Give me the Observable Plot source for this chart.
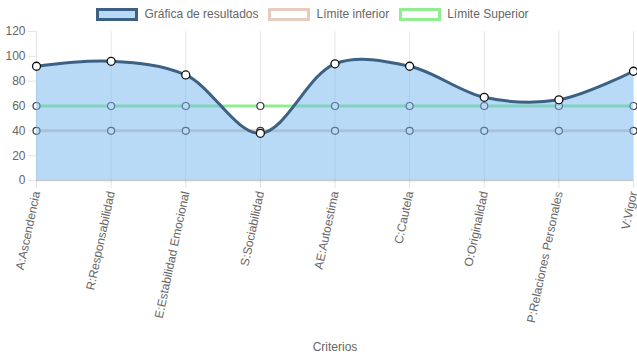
<!DOCTYPE html>
<html>
<head>
<meta charset="utf-8">
<script src="https://cdn.jsdelivr.net/npm/d3@7"></script>
<script src="https://cdn.jsdelivr.net/npm/@observablehq/plot@0.6"></script>
<style>
  html, body { margin: 0; padding: 0; background: #fff; }
  body { width: 637px; height: 359px; overflow: hidden; font-family: "Liberation Sans", Arial, Helvetica, sans-serif; }
  #legend { height: 24px; display: flex; justify-content: center; align-items: center; gap: 10px; font-size: 12px; color: #666; padding-top: 4px; padding-right: 12px; box-sizing: border-box; }
  .item { display: flex; align-items: center; gap: 6px; }
  .box { width: 42px; height: 13px; box-sizing: border-box; border: 3px solid; }
  #chart svg { display: block; }
</style>
</head>
<body>
<div id="legend"></div>
<div id="chart"></div>
<script>
const categories = ["A:Ascendencia", "R:Responsabilidad", "E:Estabilidad Emocional", "S:Sociabilidad", "AE:Autoestima", "C:Cautela", "O:Originalidad", "P:Relaciones Personales", "V:Vigor"];
const resultados = [92, 96, 85, 38, 94, 92, 67, 65, 88];
const limiteInferior = [40, 40, 40, 40, 40, 40, 40, 40, 40];
const limiteSuperior = [60, 60, 60, 60, 60, 60, 60, 60, 60];
const seriesNames = ["Gráfica de resultados", "Límite inferior", "Límite Superior"];
const yTicks = [0, 20, 40, 60, 80, 100, 120];

const legendStyles = [
  {fill: "#b8daf6", border: "#3d6184"},
  {fill: "#fff", border: "#e8cbbf"},
  {fill: "#fff", border: "#90ee90"}
];
const legend = document.getElementById("legend");
seriesNames.forEach((n, i) => {
  const it = document.createElement("div"); it.className = "item";
  const b = document.createElement("div"); b.className = "box";
  b.style.background = legendStyles[i].fill; b.style.borderColor = legendStyles[i].border;
  const t = document.createElement("span"); t.textContent = n;
  it.appendChild(b); it.appendChild(t); legend.appendChild(it);
});

const res = categories.map((c, i) => ({c, v: resultados[i]}));
const low = categories.map((c, i) => ({c, v: limiteInferior[i]}));
const up = categories.map((c, i) => ({c, v: limiteSuperior[i]}));

const curve = "catmull-rom";

const chart = Plot.plot({
  width: 637,
  height: 335,
  marginLeft: 36,
  marginRight: 4,
  marginTop: 7,
  marginBottom: 179,
  style: {fontFamily: "'Liberation Sans', Arial, Helvetica, sans-serif", fontSize: "12px", color: "#666", background: "#fff"},
  x: {type: "point", domain: categories, padding: 0, round: false},
  y: {domain: [0, 120]},
  marks: [
    Plot.gridY(yTicks, {stroke: "#000", strokeOpacity: 0.1, x1: 28}),
    Plot.gridX(categories, {stroke: "#000", strokeOpacity: 0.1}),
    Plot.axisY(yTicks, {tickSize: 8, tickPadding: 3, stroke: "#e4e4e4", fill: "#666", label: null, fontSize: 12}),
    Plot.axisX(categories, {tickSize: 8, tickPadding: 3, tickRotate: -78, stroke: "#e4e4e4", fill: "#666", fontSize: 12, label: "Criterios", labelAnchor: "center", labelOffset: 170}),
    Plot.ruleY([0], {stroke: "#000", strokeOpacity: 0.2, strokeWidth: 1.5}),
    Plot.lineY(low, {x: "c", y: "v", stroke: "#e8cbbf", strokeWidth: 3}),
    Plot.lineY(up, {x: "c", y: "v", stroke: "#90ee90", strokeWidth: 3}),
    Plot.dot(low, {x: "c", y: "v", r: 3.5, fill: "#fff", stroke: "#3a3a3a", strokeWidth: 1.2}),
    Plot.dot(up, {x: "c", y: "v", r: 3.5, fill: "#fff", stroke: "#3a3a3a", strokeWidth: 1.2}),
    Plot.areaY(res, {x: "c", y: "v", fill: "rgb(113,181,237)", fillOpacity: 0.5, curve}),
    Plot.lineY(res, {x: "c", y: "v", stroke: "#3d6184", strokeWidth: 3, curve}),
    Plot.dot(res, {x: "c", y: "v", r: 4, fill: "#fff", stroke: "#111", strokeWidth: 1.3})
  ]
});
document.getElementById("chart").appendChild(chart);
</script>
</body>
</html>
